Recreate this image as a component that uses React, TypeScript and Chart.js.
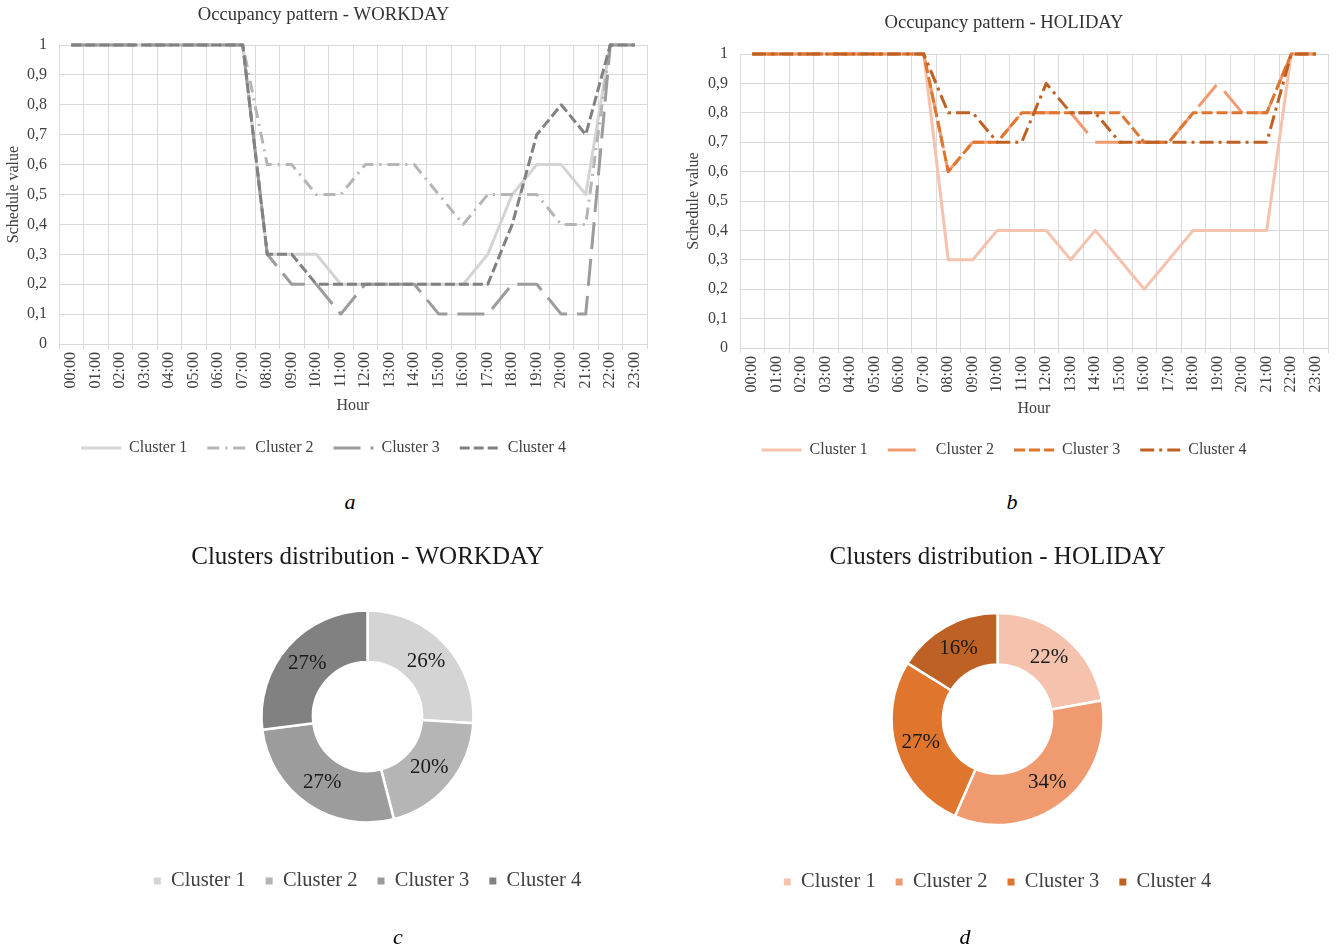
import React, { useEffect, useRef } from 'react';
import { Chart, registerables } from 'chart.js';

Chart.register(...registerables);

const FONT = "'Liberation Serif', 'Times New Roman', serif";

// ---------- data ----------
const hours = [
  '00:00', '01:00', '02:00', '03:00', '04:00', '05:00', '06:00', '07:00',
  '08:00', '09:00', '10:00', '11:00', '12:00', '13:00', '14:00', '15:00',
  '16:00', '17:00', '18:00', '19:00', '20:00', '21:00', '22:00', '23:00',
];
const clusterNames = ['Cluster 1', 'Cluster 2', 'Cluster 3', 'Cluster 4'];
const yTicks = [0, 0.1, 0.2, 0.3, 0.4, 0.5, 0.6, 0.7, 0.8, 0.9, 1];

const workdayC1 = [1, 1, 1, 1, 1, 1, 1, 1, 0.3, 0.3, 0.3, 0.2, 0.2, 0.2, 0.2, 0.2, 0.2, 0.3, 0.5, 0.6, 0.6, 0.5, 1, 1];
const workdayC2 = [1, 1, 1, 1, 1, 1, 1, 1, 0.6, 0.6, 0.5, 0.5, 0.6, 0.6, 0.6, 0.5, 0.4, 0.5, 0.5, 0.5, 0.4, 0.4, 1, 1];
const workdayC3 = [1, 1, 1, 1, 1, 1, 1, 1, 0.3, 0.2, 0.2, 0.1, 0.2, 0.2, 0.2, 0.1, 0.1, 0.1, 0.2, 0.2, 0.1, 0.1, 1, 1];
const workdayC4 = [1, 1, 1, 1, 1, 1, 1, 1, 0.3, 0.3, 0.2, 0.2, 0.2, 0.2, 0.2, 0.2, 0.2, 0.2, 0.4, 0.7, 0.8, 0.7, 1, 1];

const holidayC1 = [1, 1, 1, 1, 1, 1, 1, 1, 0.3, 0.3, 0.4, 0.4, 0.4, 0.3, 0.4, 0.3, 0.2, 0.3, 0.4, 0.4, 0.4, 0.4, 1, 1];
const holidayC2 = [1, 1, 1, 1, 1, 1, 1, 1, 0.6, 0.7, 0.7, 0.8, 0.8, 0.8, 0.7, 0.7, 0.7, 0.7, 0.8, 0.9, 0.8, 0.8, 1, 1];
const holidayC3 = [1, 1, 1, 1, 1, 1, 1, 1, 0.6, 0.7, 0.7, 0.8, 0.8, 0.8, 0.8, 0.8, 0.7, 0.7, 0.8, 0.8, 0.8, 0.8, 1, 1];
const holidayC4 = [1, 1, 1, 1, 1, 1, 1, 1, 0.8, 0.8, 0.7, 0.7, 0.9, 0.8, 0.8, 0.7, 0.7, 0.7, 0.7, 0.7, 0.7, 0.7, 1, 1];

const workdayShare = [26, 20, 27, 27];
const holidayShare = [22, 34, 27, 16];

// ---------- styles ----------
const grayColors = ['#d4d4d4', '#b5b5b5', '#9c9c9c', '#818181'];
const orangeColors = ['#f5c2ae', '#f09a70', '#e0752d', '#bd6224'];
const workdayDashes = [[], [12, 6, 2, 6], [27, 10], [10, 4]];
const holidayDashes = [[], [28, 12], [11, 4], [14, 5, 3, 5]];

const fmt = (v: number) => String(Math.round(v * 10) / 10).replace('.', ',');

type LineParams = {
  title: string;
  series: number[][];
  colors: string[];
  dashes: number[][];
  yAxisWidth: number;
  padRight: number;
  titleTop: number;
  titleBottom: number;
  xAxisHeight: number;
  hourPad: number;
  legendBottom: number;
};

function lineConfig(p: LineParams): any {
  return {
    type: 'line',
    data: {
      labels: hours,
      datasets: p.series.map((d, i) => ({
        label: clusterNames[i],
        data: d,
        borderColor: p.colors[i],
        backgroundColor: p.colors[i],
        borderWidth: 3,
        borderDash: p.dashes[i],
        borderCapStyle: 'butt',
        borderJoinStyle: 'round',
        pointRadius: 0,
        pointHoverRadius: 0,
        tension: 0,
        fill: false,
        order: 3 - i,
        clip: 6,
      })),
    },
    options: {
      responsive: false,
      animation: false,
      events: [],
      layout: { padding: { left: 0, right: p.padRight, top: 0, bottom: p.legendBottom } },
      plugins: {
        title: {
          display: true,
          text: p.title,
          color: '#333333',
          font: { family: FONT, size: 18.67, weight: 'normal' },
          padding: { top: p.titleTop, bottom: p.titleBottom },
        },
        legend: {
          position: 'bottom',
          labels: {
            usePointStyle: true,
            pointStyleWidth: 40,
            padding: 20,
            color: '#404040',
            font: { family: FONT, size: 16 },
            generateLabels: (chart: any) =>
              chart.data.datasets.map((ds: any, i: number) => ({
                text: ds.label,
                fillStyle: ds.borderColor,
                strokeStyle: ds.borderColor,
                lineWidth: 3,
                lineDash: ds.borderDash,
                lineCap: 'butt',
                pointStyle: 'line',
                hidden: false,
                datasetIndex: i,
                fontColor: '#404040',
              })),
          },
        },
        tooltip: { enabled: false },
      },
      scales: {
        x: {
          offset: true,
          grid: { offset: true, color: '#d9d9d9', tickLength: 5, drawTicks: true },
          border: { color: '#d9d9d9' },
          ticks: {
            autoSkip: false,
            minRotation: 90,
            maxRotation: 90,
            padding: 3,
            color: '#404040',
            font: { family: FONT, size: 16 },
          },
          title: {
            display: true,
            text: 'Hour',
            color: '#404040',
            font: { family: FONT, size: 16 },
            padding: { top: 0, bottom: p.hourPad },
          },
          afterFit: (s: any) => {
            s.height = p.xAxisHeight;
            s.paddingLeft = 0;
            s.paddingRight = 0;
          },
        },
        y: {
          min: 0,
          max: 1,
          afterBuildTicks: (s: any) => {
            s.ticks = yTicks.map((v) => ({ value: v }));
          },
          ticks: {
            padding: 12,
            color: '#404040',
            font: { family: FONT, size: 16 },
            callback: (v: any) => fmt(Number(v)),
          },
          grid: { color: '#d9d9d9', drawTicks: false },
          border: { color: '#d9d9d9' },
          title: {
            display: true,
            text: 'Schedule value',
            color: '#404040',
            font: { family: FONT, size: 16 },
            padding: { top: 4.4, bottom: 0 },
          },
          afterFit: (s: any) => {
            s.width = p.yAxisWidth;
          },
        },
      },
    },
  };
}

const pctPlugin = {
  id: 'pctLabels',
  afterDatasetsDraw(chart: any) {
    const ctx = chart.ctx;
    const meta = chart.getDatasetMeta(0);
    const values = chart.data.datasets[0].data;
    ctx.save();
    ctx.font = `21px ${FONT}`;
    ctx.fillStyle = '#1a1a1a';
    ctx.textAlign = 'center';
    ctx.textBaseline = 'middle';
    meta.data.forEach((arc: any, i: number) => {
      const pos = arc.tooltipPosition(false);
      ctx.fillText(values[i] + '%', pos.x, pos.y);
    });
    ctx.restore();
  },
};

type PieParams = {
  title: string;
  shares: number[];
  colors: string[];
  titleBottom: number;
  legendBottom: number;
};

function pieConfig(p: PieParams): any {
  return {
    type: 'doughnut',
    data: {
      labels: clusterNames,
      datasets: [
        {
          data: p.shares,
          backgroundColor: p.colors,
          borderColor: '#ffffff',
          borderWidth: 2.5,
        },
      ],
    },
    options: {
      responsive: false,
      animation: false,
      events: [],
      radius: 106,
      cutout: '51.5%',
      layout: { padding: { left: 0, right: 0, top: 0, bottom: p.legendBottom } },
      plugins: {
        title: {
          display: true,
          text: p.title,
          color: '#1a1a1a',
          font: { family: FONT, size: 25, weight: 'normal' },
          padding: { top: 12, bottom: p.titleBottom },
        },
        legend: {
          position: 'bottom',
          labels: {
            boxWidth: 7,
            boxHeight: 7,
            padding: 20,
            color: '#404040',
            font: { family: FONT, size: 20.5 },
            generateLabels: (chart: any) =>
              chart.data.labels.map((t: string, i: number) => ({
                text: t,
                fillStyle: p.colors[i],
                strokeStyle: p.colors[i],
                lineWidth: 0,
                hidden: false,
                index: i,
                fontColor: '#404040',
              })),
          },
        },
        tooltip: { enabled: false },
      },
    },
    plugins: [pctPlugin],
  };
}

function ChartCanvas({ config, left, top, width, height }: { config: any; left: number; top: number; width: number; height: number }) {
  const ref = useRef<HTMLCanvasElement | null>(null);
  useEffect(() => {
    if (!ref.current) return;
    const chart = new Chart(ref.current, config);
    return () => chart.destroy();
  }, [config]);
  return (
    <canvas
      ref={ref}
      width={width}
      height={height}
      style={{ position: 'absolute', left, top, width, height }}
    />
  );
}

const workdayLine = lineConfig({
  title: 'Occupancy pattern - WORKDAY',
  series: [workdayC1, workdayC2, workdayC3, workdayC4],
  colors: grayColors,
  dashes: workdayDashes,
  yAxisWidth: 59,
  padRight: 21,
  titleTop: 3.8,
  titleBottom: 18.8,
  xAxisHeight: 76,
  hourPad: 4.4,
  legendBottom: 4,
});

const holidayLine = lineConfig({
  title: 'Occupancy pattern - HOLIDAY',
  series: [holidayC1, holidayC2, holidayC3, holidayC4],
  colors: orangeColors,
  dashes: holidayDashes,
  yAxisWidth: 60,
  padRight: 8,
  titleTop: 11.8,
  titleBottom: 19.8,
  xAxisHeight: 74,
  hourPad: 3.4,
  legendBottom: 2,
});

const workdayPie = pieConfig({
  title: 'Clusters distribution - WORKDAY',
  shares: workdayShare,
  colors: grayColors,
  titleBottom: 10.25,
  legendBottom: 28.75,
});

const holidayPie = pieConfig({
  title: 'Clusters distribution - HOLIDAY',
  shares: holidayShare,
  colors: orangeColors,
  titleBottom: 14.25,
  legendBottom: 27.75,
});

function Letter({ text, x, y }: { text: string; x: number; y: number }) {
  return (
    <div
      style={{
        position: 'absolute',
        left: x,
        top: y,
        transform: 'translate(-50%, -50%)',
        fontFamily: FONT,
        fontStyle: 'italic',
        fontSize: 22,
        color: '#000',
        lineHeight: 1,
      }}
    >
      {text}
    </div>
  );
}

export default function App() {
  return (
    <div
      style={{
        position: 'absolute',
        left: 0,
        top: 0,
        width: 1336,
        height: 950,
        background: '#ffffff',
        overflow: 'hidden',
      }}
    >
      <ChartCanvas config={workdayLine} left={0} top={0} width={668} height={470} />
      <ChartCanvas config={holidayLine} left={680} top={0} width={656} height={470} />
      <ChartCanvas config={workdayPie} left={87} top={530} width={561} height={400} />
      <ChartCanvas config={holidayPie} left={717} top={530} width={561} height={400} />
      <Letter text="a" x={350} y={502} />
      <Letter text="b" x={1012} y={502} />
      <Letter text="c" x={398} y={937} />
      <Letter text="d" x={965} y={937} />
    </div>
  );
}
